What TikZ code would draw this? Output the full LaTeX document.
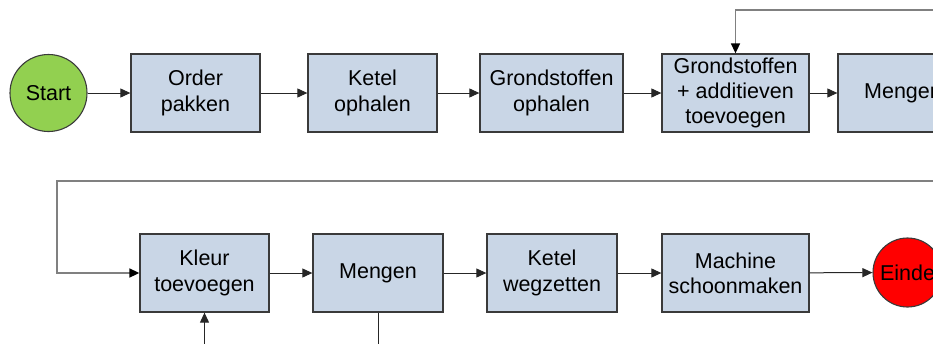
\documentclass[tikz,border=0pt]{standalone}
\usepackage{fontspec}
\setmainfont{Liberation Sans}
\usetikzlibrary{arrows.meta}
\definecolor{boxfill}{HTML}{C9D6E6}
\definecolor{boxline}{HTML}{3A3A3A}
\definecolor{startgreen}{HTML}{92D050}
\definecolor{loopgray}{HTML}{808080}
\tikzset{
  stepbox/.style={draw=boxline, line width=1.3pt, fill=boxfill, rectangle,
    minimum height=78pt, inner sep=0pt, align=center,
    font=\fontsize{21.5pt}{25.3pt}\selectfont},
  terminal/.style={draw=boxline, line width=1.1pt, circle, inner sep=0pt,
    font=\fontsize{21.5pt}{25.3pt}\selectfont},
  flow/.style={draw=black!85, line width=1pt, -{Triangle[length=10pt,width=9pt]}},
  loop/.style={draw=loopgray, line width=1.6pt},
  looparrow/.style={loop, -{Triangle[length=10pt,width=9pt,fill=black,color=black]}},
}
\begin{document}
\begin{tikzpicture}[x=1pt,y=-1pt]
\useasboundingbox (0,0) rectangle (933,343);
\clip (0,0) rectangle (933,343);

% first row
\node[terminal, fill=startgreen, minimum size=77pt] (start) at (48.5,93) {Start};
\node[stepbox, minimum width=129pt] (order) at (195.5,93) {Order\\pakken};
\node[stepbox, minimum width=129pt] (ketel) at (372.5,93) {Ketel\\ophalen};
\node[stepbox, minimum width=143pt] (grond) at (551.5,93) {Grondstoffen\\ophalen};
\node[stepbox, minimum width=147pt] (addit) at (735.5,93) {Grondstoffen\\+ additieven\\toevoegen};
\node[stepbox, minimum width=130pt] (meng1) at (903,93) {Mengen};

\draw[flow] (start) -- (order);
\draw[flow] (order) -- (ketel);
\draw[flow] (ketel) -- (grond);
\draw[flow] (grond) -- (addit);
\draw[flow] (addit) -- (meng1);

% return line into the additive step
\coordinate (backin) at (945,10);
\draw[looparrow] (backin) -| (addit.north);

% second row
\node[stepbox, minimum width=129pt] (kleur) at (204.5,273) {Kleur\\toevoegen};
\node[stepbox, minimum width=130pt] (meng2) at (378,273) {Mengen};
\node[stepbox, minimum width=130pt] (weg) at (552,273) {Ketel\\wegzetten};
\node[stepbox, minimum width=147pt] (schoon) at (735.5,273) {Machine\\schoonmaken};
\node[terminal, fill=red, minimum size=69pt] (einde) at (907.5,272.5) {Einde};

\draw[flow] (kleur) -- (meng2);
\draw[flow] (meng2) -- (weg);
\draw[flow] (weg) -- (schoon);
\draw[flow] (schoon) -- (einde);

% line coming over from the first row
\coordinate (overin) at (945,181);
\coordinate (overcorner) at (57,181);
\draw[looparrow] (overin) -- (overcorner) |- (kleur.west);

% lines leaving the bottom edge
\coordinate (kleurin) at (204.5,350);
\coordinate (mengout) at (378,350);
\draw[flow] (kleurin) -- (kleur.south);
\draw[draw=black!85, line width=1pt] (meng2.south) -- (mengout);
\end{tikzpicture}
\end{document}
